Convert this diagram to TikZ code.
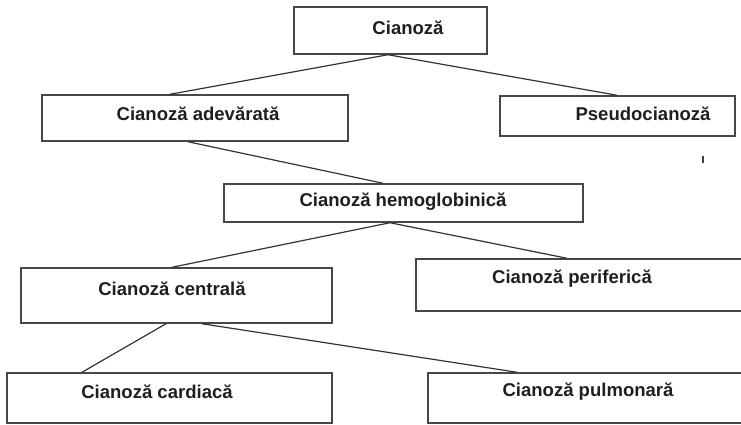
\documentclass[tikz,border=0pt]{standalone}
\usepackage{fontspec}
\setmainfont{Liberation Sans}
\begin{document}
\begin{tikzpicture}[x=0.75pt,y=-0.75pt,
  box/.style={draw=black!72,line width=1.1pt,inner sep=0pt,fill=none},
  lbl/.style={font=\fontsize{13.9}{16}\selectfont\bfseries,text=black!88,inner sep=0pt,anchor=center},
  conn/.style={draw=black!80,line width=0.9pt}]
\useasboundingbox (0,0) rectangle (741,424);
\fill[white] (0,0) rectangle (741,424);
\clip (0,0) rectangle (741,424);
% boxes
\node[box,minimum width=193*0.75pt,minimum height=47*0.75pt] (A) at (390.5,30.5) {};
\node[box,minimum width=306*0.75pt,minimum height=46*0.75pt] (B) at (195,118) {};
\node[box,minimum width=235*0.75pt,minimum height=40*0.75pt] (C) at (617.5,116) {};
\node[box,minimum width=359*0.75pt,minimum height=38*0.75pt] (D) at (403.5,203) {};
\node[box,minimum width=311*0.75pt,minimum height=55*0.75pt] (E) at (176.5,295.5) {};
\node[box,minimum width=344*0.75pt,minimum height=52*0.75pt] (F) at (588,285) {};
\node[box,minimum width=325*0.75pt,minimum height=50*0.75pt] (G) at (169.5,398) {};
\node[box,minimum width=332*0.75pt,minimum height=50*0.75pt] (H) at (594,398) {};
% labels
\node[lbl] (tA) at (408,28) {Cianoză};
\node[lbl] (tB) at (198,114) {Cianoză adevărată};
\node[lbl] (tC) at (643,114) {Pseudocianoză};
\node[lbl] (tD) at (403,202) {Cianoză hemoglobinică};
\node[lbl] (tE) at (172,289) {Cianoză centrală};
\node[lbl] (tF) at (572,279) {Cianoză periferică};
\node[lbl] (tG) at (157,392) {Cianoză cardiacă};
\node[lbl] (tH) at (588,392) {Cianoză pulmonară};
% connectors
\draw[conn] (A.south -| 388,0) -- (B.north -| 170,0);
\draw[conn] (A.south -| 388,0) -- (C.north -| 617,0);
\draw[conn] (B.south -| 188,0) -- (D.north -| 383,0);
\draw[conn] (D.south -| 390,0) -- (E.north -| 172,0);
\draw[conn] (D.south -| 390,0) -- (F.north -| 567,0);
\draw[conn] (E.south -| 166,0) -- (G.north -| 82,0);
\draw[conn] (E.south -| 202,0) -- (H.north -| 517,0);
% stray tick
\coordinate (k1) at (703,156);
\coordinate (k2) at (703,163);
\draw[black!75,line width=0.9pt] (k1) -- (k2);
\end{tikzpicture}
\end{document}
